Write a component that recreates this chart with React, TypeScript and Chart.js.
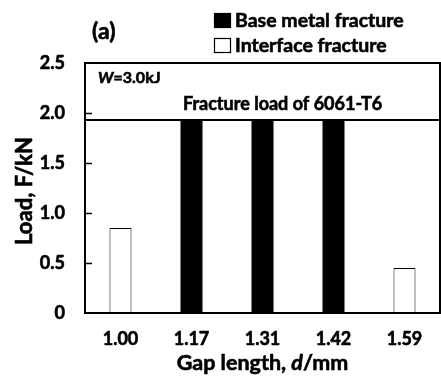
import React, { useEffect, useRef } from "react";
import { Chart, registerables } from "chart.js";

Chart.register(...registerables);

const categories = ["1.00", "1.17", "1.31", "1.42", "1.59"];
const baseMetalFracture = [null, 1.93, 1.93, 1.93, null];
const interfaceFracture = [0.85, null, null, null, 0.45];
const fractureLoad6061 = 1.93;
const yMin = 0;
const yMax = 2.5;
const yStep = 0.5;
const seriesLabels = ["Base metal fracture", "Interface fracture"];
const panelLabel = "(a)";
const energyLabelItalic = "W";
const energyLabelRest = "=3.0kJ";
const refLineLabel = "Fracture load of 6061-T6";
const xTitleParts = ["Gap length, ", "d", "/mm"];
const yTitle = "Load, F/kN";

const FONT = "Lato, 'Noto Sans', sans-serif";
const STROKE = 0.6;

function boldText(ctx: any, text: string, x: number, y: number) {
  ctx.fillText(text, x, y);
  ctx.lineWidth = STROKE;
  ctx.strokeStyle = "#000";
  ctx.strokeText(text, x, y);
}

const annotations = {
  id: "annotations",
  afterDatasetsDraw(chart: any) {
    const { ctx, chartArea, scales } = chart;
    const y = scales.y;
    const { left, right, top, bottom } = chartArea;
    ctx.save();
    // reference line
    const yr = y.getPixelForValue(fractureLoad6061);
    ctx.strokeStyle = "#000";
    ctx.lineWidth = 2;
    ctx.beginPath();
    ctx.moveTo(left, yr);
    ctx.lineTo(right, yr);
    ctx.stroke();
    // box
    ctx.lineWidth = 2;
    ctx.strokeRect(left, top, right - left, bottom - top);
    // inside ticks
    ctx.lineWidth = 1.5;
    y.ticks.forEach((t: any) => {
      if (t.value <= yMin || t.value >= yMax) return;
      const py = Math.round(y.getPixelForValue(t.value)) + 0.5;
      ctx.beginPath();
      ctx.moveTo(left, py);
      ctx.lineTo(left + 7, py);
      ctx.stroke();
    });
    ctx.fillStyle = "#000";
    ctx.textBaseline = "alphabetic";
    ctx.textAlign = "left";
    // reference label
    ctx.font = `bold 18px ${FONT}`;
    boldText(ctx, refLineLabel, 183, yr - 10);
    // energy label
    ctx.font = `italic bold 16px ${FONT}`;
    boldText(ctx, energyLabelItalic, 98, 83);
    const wW = ctx.measureText(energyLabelItalic).width;
    ctx.font = `bold 16px ${FONT}`;
    boldText(ctx, energyLabelRest, 98 + wW, 83);
    // panel label
    ctx.font = `bold 23px ${FONT}`;
    boldText(ctx, panelLabel, 92, 39);
    // legend
    const ds = chart.data.datasets;
    const rows = [27, 52];
    ds.forEach((d: any, i: number) => {
      const by = rows[i];
      ctx.fillStyle = d.backgroundColor;
      ctx.fillRect(214, by - 14, 17, 15);
      ctx.strokeStyle = "#000";
      ctx.lineWidth = 1.2;
      ctx.strokeRect(214.5, by - 13.5, 16, 14);
      ctx.fillStyle = "#000";
      ctx.font = `bold 19.5px ${FONT}`;
      boldText(ctx, d.label, 235, by);
    });
    // x title
    const parts = xTitleParts;
    const fonts = [`bold 21.5px ${FONT}`, `italic bold 21.5px ${FONT}`, `bold 21.5px ${FONT}`];
    let total = 0;
    const widths = parts.map((p, i) => {
      ctx.font = fonts[i];
      const w = ctx.measureText(p).width;
      total += w;
      return w;
    });
    let x = (left + right) / 2 - total / 2;
    parts.forEach((p, i) => {
      ctx.font = fonts[i];
      boldText(ctx, p, x, 370);
      x += widths[i];
    });
    // y title
    ctx.save();
    ctx.translate(25, (top + bottom) / 2 + 3);
    ctx.rotate(-Math.PI / 2);
    ctx.textAlign = "center";
    ctx.textBaseline = "middle";
    ctx.font = `bold 22px ${FONT}`;
    boldText(ctx, yTitle, 0, 0);
    ctx.restore();
    ctx.restore();
  },
};

export default function App() {
  const ref = useRef<HTMLCanvasElement>(null);
  useEffect(() => {
    if (!ref.current) return;
    const tickFont = { family: FONT, weight: "bold" as const, size: 18 };
    const chart = new Chart(ref.current, {
      type: "bar",
      data: {
        labels: categories,
        datasets: [
          {
            label: seriesLabels[0],
            data: baseMetalFracture as any,
            backgroundColor: "#000000",
            borderColor: "#000000",
            borderWidth: 0,
            grouped: false,
            barPercentage: 0.31,
            categoryPercentage: 1,
          },
          {
            label: seriesLabels[1],
            data: interfaceFracture as any,
            backgroundColor: "#ffffff",
            borderColor: "#000000",
            borderWidth: 1,
            grouped: false,
            barPercentage: 0.31,
            categoryPercentage: 1,
          },
        ],
      },
      options: {
        responsive: false,
        animation: false,
        layout: { padding: { top: 63, right: 1, left: 0, bottom: 0 } },
        plugins: {
          legend: { display: false },
          tooltip: { enabled: false },
        },
        scales: {
          x: {
            grid: { display: false, drawTicks: false },
            border: { display: false },
            ticks: {
              color: "#000",
              font: tickFont,
              padding: 15,
              textStrokeColor: "#000",
              textStrokeWidth: STROKE,
            } as any,
            afterFit: (s: any) => {
              s.height = 68;
            },
          },
          y: {
            min: yMin,
            max: yMax,
            grid: { display: false, drawTicks: false },
            border: { display: false },
            ticks: {
              stepSize: yStep,
              color: "#000",
              font: tickFont,
              padding: 20,
              textStrokeColor: "#000",
              textStrokeWidth: STROKE,
              callback: (v: any) => (Number(v) === 0 ? "0" : Number(v).toFixed(1)),
            } as any,
            afterFit: (s: any) => {
              s.width = 85;
            },
          },
        },
      },
      plugins: [annotations],
    });
    return () => chart.destroy();
  }, []);
  return (
    <canvas
      ref={ref}
      width={441}
      height={381}
      style={{ position: "absolute", left: 0, top: 0, display: "block" }}
    />
  );
}
